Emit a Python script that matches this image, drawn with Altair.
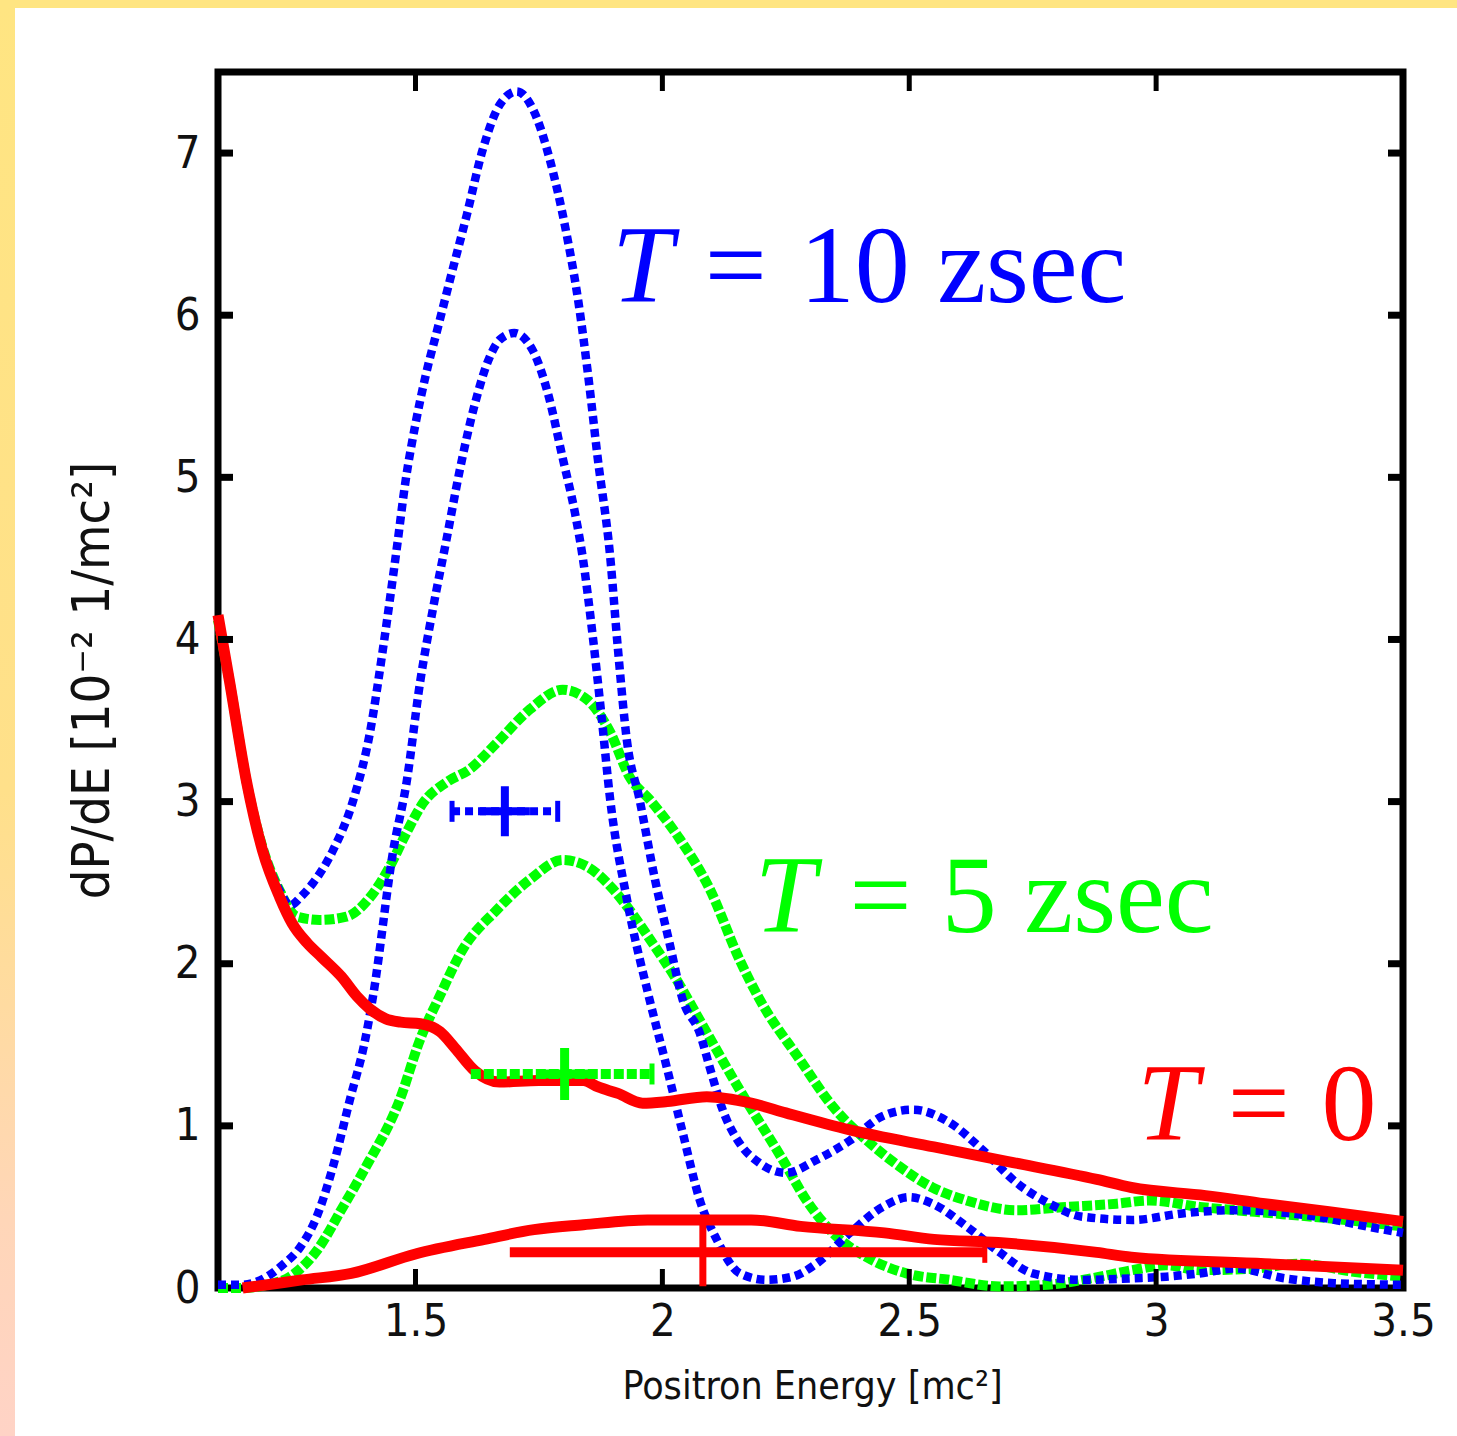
import altair as alt
import pandas as pd

# ---------------------------------------------------------------- data
# T = 0 (red, solid)
red_total_x = [1.10, 1.124, 1.158, 1.19, 1.225, 1.25, 1.28, 1.31, 1.35, 1.381, 1.408, 1.44,
               1.47, 1.51, 1.55, 1.58, 1.62, 1.67, 1.75, 1.84, 1.87, 1.91, 1.96, 2.01, 2.09,
               2.18, 2.25, 2.38, 2.55, 2.70, 2.88, 2.95, 3.10, 3.22, 3.35, 3.50]
red_total_y = [4.15, 3.73, 3.12, 2.70, 2.41, 2.25, 2.13, 2.04, 1.92, 1.80, 1.72, 1.66,
               1.64, 1.63, 1.58, 1.48, 1.34, 1.27, 1.28, 1.28, 1.24, 1.20, 1.14, 1.15, 1.18,
               1.14, 1.08, 0.975, 0.87, 0.78, 0.67, 0.62, 0.57, 0.52, 0.47, 0.41]
red_part_x = [1.15, 1.20, 1.27, 1.37, 1.50, 1.64, 1.74, 1.84, 1.97, 2.10, 2.18, 2.28, 2.45,
              2.55, 2.68, 2.88, 2.95, 3.22, 3.50]
red_part_y = [0.0, 0.02, 0.05, 0.09, 0.21, 0.30, 0.36, 0.39, 0.42, 0.42, 0.42, 0.38, 0.34,
              0.30, 0.28, 0.22, 0.19, 0.15, 0.11]

# T = 10 zsec (blue, dotted)
blue_total_x = [1.10, 1.124, 1.158, 1.19, 1.225, 1.246, 1.27, 1.293, 1.333, 1.374, 1.408,
                1.434, 1.462, 1.48, 1.50, 1.52, 1.545, 1.57, 1.604, 1.636, 1.671, 1.705,
                1.738, 1.772, 1.806, 1.830, 1.850, 1.869, 1.894, 1.910, 1.928, 1.954, 1.985,
                2.015, 2.041, 2.076, 2.096, 2.122, 2.157, 2.197, 2.25, 2.312, 2.38, 2.446,
                2.507, 2.582, 2.649, 2.717, 2.784, 2.85, 2.952, 3.053, 3.155, 3.325, 3.426,
                3.50]
blue_total_y = [4.12, 3.73, 3.12, 2.72, 2.45, 2.36, 2.42, 2.50, 2.70, 3.01, 3.43,
                3.94, 4.56, 4.98, 5.33, 5.62, 5.92, 6.22, 6.62, 7.02, 7.30, 7.38,
                7.27, 6.96, 6.50, 6.08, 5.62, 5.12, 4.52, 3.94, 3.38, 3.01, 2.52,
                2.12, 1.78, 1.57, 1.36, 1.10, 0.89, 0.77, 0.71, 0.79, 0.91, 1.06,
                1.10, 1.02, 0.85, 0.65, 0.52, 0.44, 0.42, 0.46, 0.48, 0.44, 0.38,
                0.34]
blue_part_x = [1.10, 1.15, 1.199, 1.23, 1.266, 1.30, 1.333, 1.367, 1.398, 1.414, 1.455,
               1.482, 1.509, 1.536, 1.563, 1.59, 1.62, 1.65, 1.671, 1.70, 1.738, 1.768,
               1.798, 1.823, 1.839, 1.859, 1.877, 1.894, 1.928, 1.974, 2.009, 2.041, 2.076,
               2.11, 2.157, 2.211, 2.264, 2.312, 2.38, 2.446, 2.50, 2.547, 2.616, 2.683,
               2.75, 2.85, 2.952, 3.02, 3.088, 3.16, 3.26, 3.36, 3.50]
blue_part_y = [0.02, 0.02, 0.07, 0.14, 0.25, 0.44, 0.75, 1.16, 1.53, 1.80, 2.70,
               3.12, 3.73, 4.20, 4.62, 5.05, 5.45, 5.74, 5.85, 5.89, 5.78, 5.52,
               5.12, 4.78, 4.50, 4.02, 3.52, 3.02, 2.40, 1.78, 1.36, 0.96, 0.54,
               0.30, 0.09, 0.05, 0.07, 0.15, 0.34, 0.50, 0.56, 0.52, 0.38, 0.22,
               0.09, 0.05, 0.06, 0.07, 0.09, 0.12, 0.06, 0.03, 0.02]

# T = 5 zsec (green, dashed)
green_total_x = [1.10, 1.124, 1.158, 1.19, 1.225, 1.26, 1.306, 1.36, 1.408, 1.448, 1.482,
                 1.515, 1.563, 1.61, 1.664, 1.732, 1.798, 1.847, 1.894, 1.934, 1.975, 2.035,
                 2.096, 2.157, 2.197, 2.278, 2.345, 2.414, 2.48, 2.547, 2.616, 2.717, 2.818,
                 2.92, 2.987, 3.088, 3.20, 3.35, 3.50]
green_total_y = [4.12, 3.73, 3.12, 2.72, 2.45, 2.29, 2.27, 2.29, 2.41, 2.60, 2.81,
                 2.99, 3.12, 3.20, 3.36, 3.57, 3.69, 3.63, 3.43, 3.15, 3.01, 2.77,
                 2.46, 2.02, 1.78, 1.41, 1.12, 0.91, 0.75, 0.62, 0.54, 0.48, 0.50,
                 0.52, 0.54, 0.50, 0.47, 0.43, 0.38]
green_part_x = [1.10, 1.15, 1.20, 1.246, 1.30, 1.353, 1.40, 1.468, 1.509, 1.549, 1.596,
                1.664, 1.732, 1.798, 1.847, 1.90, 1.934, 1.975, 2.035, 2.076, 2.157, 2.244,
                2.292, 2.345, 2.414, 2.494, 2.582, 2.683, 2.78, 2.87, 2.952, 3.02, 3.088,
                3.20, 3.29, 3.40, 3.50]
green_part_y = [0.0, 0.0, 0.02, 0.07, 0.23, 0.50, 0.75, 1.16, 1.53, 1.80, 2.09,
                2.33, 2.52, 2.64, 2.60, 2.46, 2.33, 2.15, 1.87, 1.65, 1.22, 0.79,
                0.54, 0.34, 0.19, 0.09, 0.05, 0.01, 0.02, 0.06, 0.11, 0.14, 0.11,
                0.12, 0.15, 0.10, 0.07]

# mean energy with spread (horizontal bars) for each time
err_x_mid = [1.681, 1.802, 2.082]
err_y_mid = [2.94, 1.32, 0.22]
err_x_lo = [1.574, 1.612, 1.691]
err_x_hi = [1.788, 1.979, 2.653]

# annotations
label_color = ["#0000ff", "#00ff00", "#ff0000"]
label_y = [6.08, 2.198, 0.914]
label_t_x = [1.898, 2.187, 2.962]
label_eq_x = [2.086, 2.379, 3.145]
label_val_x = [2.278, 2.566, 3.335]
label_val = ["10 zsec", "5 zsec", "0"]

x_ticks = [1.5, 2.0, 2.5, 3.0]
x_labels = [1.5, 2.0, 2.5, 3.0, 3.5]
y_ticks = [1, 2, 3, 4, 5, 6, 7]
y_labels = [0, 1, 2, 3, 4, 5, 6, 7]

# ---------------------------------------------------------------- layout
W, H = 1185, 1216
PAD_L, PAD_T, PAD_R, PAD_B = 218, 72, 54, 148
SANS = "Liberation Sans Narrow, DejaVu Sans Condensed, Liberation Sans, sans-serif"
SERIF = "Liberation Serif, DejaVu Serif, serif"
BLUE, GREEN, RED = "#0000ff", "#00ff00", "#ff0000"

x_scale = alt.Scale(domain=[1.1, 3.5], nice=False, zero=False)
y_scale = alt.Scale(domain=[0, 7.5], nice=False, zero=False)

x_axis = alt.Axis(values=x_labels, format="~g", ticks=False, domain=False, grid=False,
                  labelFont=SANS, labelFontSize=45, labelColor="#111111", labelPadding=11,
                  labelFlush=False, labelOverlap=False,
                  title="Positron Energy [mc²]", titleFont=SANS, titleFontSize=39,
                  titleFontWeight="normal", titleColor="#111111",
                  titleX=594, titleY=98, titleBaseline="middle", titleAlign="center")
y_axis = alt.Axis(values=y_labels, format="d", ticks=False, domain=False, grid=False,
                  labelFont=SANS, labelFontSize=45, labelColor="#111111", labelPadding=18,
                  labelFlush=False, labelOverlap=False,
                  title="dP/dE [10⁻² 1/mc²]", titleFont=SANS, titleFontSize=52,
                  titleFontWeight="normal", titleColor="#111111",
                  titleX=-126, titleY=608, titleBaseline="middle", titleAlign="center")

X = alt.X("energy:Q", scale=x_scale, axis=x_axis)
Y = alt.Y("dpde:Q", scale=y_scale, axis=y_axis)

BLUE_DASH, GREEN_DASH = [8, 5], [10, 3]


def curve(xs, ys, color, width, dash=None):
    df = pd.DataFrame({"energy": xs, "dpde": ys})
    kw = dict(color=color, strokeWidth=width, interpolate="monotone", strokeCap="butt",
              strokeJoin="miter")
    if dash:
        kw["strokeDash"] = dash
    return alt.Chart(df).mark_line(**kw).encode(x=X, y=Y)


one = pd.DataFrame({"k": [0]})

# decorative slide border (left strip with a soft gradient, thin top strip)
left_strip = alt.Chart(one).mark_rect(
    fill=alt.Gradient(gradient="linear", x1=0, x2=0, y1=0, y2=1,
                      stops=[alt.GradientStop(color="#ffe582", offset=0),
                             alt.GradientStop(color="#ffe08a", offset=0.55),
                             alt.GradientStop(color="#ffd6b8", offset=0.85),
                             alt.GradientStop(color="#ffd3c6", offset=1)])
).encode(x=alt.value(-PAD_L), x2=alt.value(-PAD_L + 15),
         y=alt.value(-PAD_T), y2=alt.value(H + PAD_B))
top_strip = alt.Chart(one).mark_rect(fill="#ffe582").encode(
    x=alt.value(-PAD_L), x2=alt.value(W + PAD_R), y=alt.value(-PAD_T), y2=alt.value(-PAD_T + 8))

layers = [left_strip, top_strip,
          curve(green_total_x, green_total_y, GREEN, 10, GREEN_DASH),
          curve(green_part_x, green_part_y, GREEN, 10, GREEN_DASH),
          curve(blue_total_x, blue_total_y, BLUE, 8.5, BLUE_DASH),
          curve(blue_part_x, blue_part_y, BLUE, 8.5, BLUE_DASH),
          curve(red_total_x, red_total_y, RED, 11),
          curve(red_part_x, red_part_y, RED, 11)]

# horizontal spread bars, end caps and "+" markers at the mean
# (colour, bar width, dash, plus size, plus width, which ends get a cap)
bar_style = [(BLUE, 8, BLUE_DASH, 50, 8, [True, True]),
             (GREEN, 10, GREEN_DASH, 52, 9, [False, True]),
             (RED, 10, None, 68, 7, [False, True])]
PLUS = "M -1 0 L 1 0 M 0 -1 L 0 1"
for i, (col, w, dash, psize, pw, cap_ends) in enumerate(bar_style):
    bar = pd.DataFrame({"energy": [err_x_lo[i]], "energy_hi": [err_x_hi[i]],
                        "dpde": [err_y_mid[i]]})
    kw = dict(color=col, strokeWidth=w, strokeCap="butt")
    if dash:
        kw["strokeDash"] = dash
    layers.append(alt.Chart(bar).mark_rule(**kw).encode(
        x=X, x2="energy_hi:Q", y=Y))
    ends = [e for e, keep in zip([err_x_lo[i], err_x_hi[i]], cap_ends) if keep]
    caps = pd.DataFrame({"energy": ends, "dpde": [err_y_mid[i]] * len(ends)})
    layers.append(alt.Chart(caps).mark_tick(color=col, orient="vertical", size=21,
                                            thickness=5, opacity=1).encode(x=X, y=Y))
    mid = pd.DataFrame({"energy": [err_x_mid[i]], "dpde": [err_y_mid[i]]})
    layers.append(alt.Chart(mid).mark_point(shape=PLUS, size=psize * psize, filled=False,
                                            stroke=col, strokeWidth=pw, opacity=1,
                                            strokeCap="butt").encode(x=X, y=Y))

# inward ticks on all four sides
xt = pd.DataFrame({"energy": x_ticks})
yt = pd.DataFrame({"dpde": y_ticks})
layers += [
    alt.Chart(xt).mark_rule(color="black", strokeWidth=5).encode(
        x=X, y=alt.value(H), y2=alt.value(H - 19)),
    alt.Chart(xt).mark_rule(color="black", strokeWidth=5).encode(
        x=X, y=alt.value(0), y2=alt.value(19)),
    alt.Chart(yt).mark_rule(color="black", strokeWidth=7).encode(
        y=Y, x=alt.value(0), x2=alt.value(15)),
    alt.Chart(yt).mark_rule(color="black", strokeWidth=7).encode(
        y=Y, x=alt.value(W), x2=alt.value(W - 15)),
]

# curve labels: italic T, equals sign, value
lab = pd.DataFrame({"tx": label_t_x, "ex": label_eq_x, "vx": label_val_x,
                    "dpde": label_y, "val": label_val, "col": label_color})
text_kw = dict(font=SERIF, fontSize=110, align="left", baseline="alphabetic")
layers += [
    alt.Chart(lab).mark_text(fontStyle="italic", text="T", **text_kw).encode(
        x=alt.X("tx:Q", scale=x_scale), y=Y, color=alt.Color("col:N", scale=None)),
    alt.Chart(lab).mark_text(text="=", **text_kw).encode(
        x=alt.X("ex:Q", scale=x_scale), y=Y, color=alt.Color("col:N", scale=None)),
    alt.Chart(lab).mark_text(**text_kw).encode(
        x=alt.X("vx:Q", scale=x_scale), y=Y, text="val:N",
        color=alt.Color("col:N", scale=None)),
]

chart = alt.layer(*layers).properties(
    width=W, height=H,
    autosize=alt.AutoSizeParams(type="none"),
    padding={"left": PAD_L, "top": PAD_T, "right": PAD_R, "bottom": PAD_B},
    background="white",
).configure_view(stroke="black", strokeWidth=7)

chart.save("out.html", embed_options={"renderer": "svg", "actions": False})
